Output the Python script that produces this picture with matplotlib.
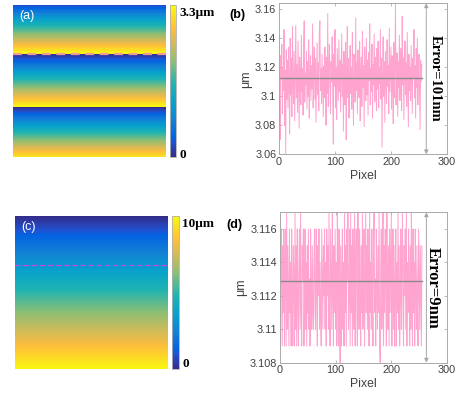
import numpy as np
import matplotlib
matplotlib.use('Agg')
import matplotlib.pyplot as plt
from matplotlib.colors import LinearSegmentedColormap

plt.rcParams['font.family'] = ['Liberation Sans', 'DejaVu Sans']

# surface heights (um) along the image rows, top to bottom
n_px = 256
wrap_um = 3.3          # wrapped range shown in (a)
wrap_top, wrap_bottom = 0.3, 9.7
full_top, full_bottom = 0.0, 9.9
full_vmax = 10.0
profile_row = 82       # dashed line = row used for the profiles

# profiles (nm)
prof_b = [3133, 3095, 3070, 3128, 3112, 3136, 3088, 3120, 3104, 3146, 3080, 3118, 3060, 3132, 3098, 3125,
          3092, 3134, 3108, 3074, 3140, 3101, 3126, 3086, 3148, 3110, 3095, 3131, 3083, 3117, 3149, 3099,
          3122, 3089, 3138, 3106, 3078, 3127, 3113, 3094, 3142, 3103, 3119, 3087, 3135, 3152, 3096, 3116,
          3108, 3131, 3091, 3124, 3100, 3139, 3085, 3113, 3128, 3097, 3121, 3105, 3150, 3092, 3117, 3134,
          3098, 3126, 3082, 3111, 3137, 3101, 3123, 3090, 3144, 3152, 3104, 3119, 3095, 3129, 3108, 3086,
          3121, 3099, 3134, 3113, 3080, 3127, 3102, 3157, 3093, 3118, 3136, 3105, 3088, 3124, 3110, 3141,
          3098, 3067, 3129, 3107, 3146, 3092, 3120, 3084, 3133, 3114, 3097, 3139, 3103, 3125, 3089, 3117,
          3143, 3100, 3122, 3076, 3131, 3109, 3094, 3137, 3070, 3118, 3148, 3099, 3126, 3085, 3113, 3135,
          3102, 3120, 3091, 3144, 3107, 3080, 3129, 3115, 3096, 3154, 3104, 3123, 3088, 3132, 3110, 3099,
          3138, 3083, 3117, 3127, 3093, 3145, 3106, 3121, 3079, 3134, 3112, 3097, 3140, 3101, 3125, 3087,
          3130, 3111, 3150, 3094, 3119, 3103, 3136, 3085, 3122, 3108, 3143, 3096, 3127, 3114, 3090, 3133,
          3105, 3138, 3092, 3120, 3109, 3146, 3098, 3126, 3065, 3116, 3141, 3100, 3124, 3082, 3131, 3112,
          3095, 3139, 3107, 3121, 3088, 3147, 3103, 3118, 3134, 3091, 3128, 3110, 3081, 3137, 3099, 3122,
          3164, 3094, 3115, 3130, 3086, 3124, 3106, 3142, 3097, 3119, 3133, 3090, 3155, 3108, 3127, 3084,
          3116, 3138, 3101, 3123, 3093, 3144, 3111, 3079, 3129, 3104, 3120, 3097, 3135, 3109, 3088, 3126,
          3113, 3146, 3099, 3121, 3085, 3133, 3106, 3140, 3094, 3118, 3129, 3102, 3077, 3125, 3110, 3122]
mean_b = 3.1128

# (d) offsets from 3100 nm
prof_d = [17, 9, 16, 14, 9, 15, 11, 16, 9, 13, 16, 9, 17, 10, 15, 12,
          9, 16, 11, 14, 9, 16, 12, 9, 15, 13, 9, 17, 10, 15, 9, 16,
          12, 9, 14, 16, 10, 17, 11, 9, 15, 13, 16, 9, 12, 16, 10, 14,
          9, 15, 11, 16, 10, 13, 9, 16, 12, 10, 15, 11, 10, 14, 16, 11,
          10, 16, 13, 9, 15, 12, 16, 10, 14, 11, 9, 16, 13, 10, 15, 12,
          16, 10, 14, 9, 16, 12, 15, 10, 17, 11, 9, 16, 13, 10, 17, 12,
          9, 15, 11, 16, 10, 14, 9, 17, 12, 9, 16, 11, 8, 15, 9, 13,
          16, 10, 14, 9, 17, 11, 15, 9, 16, 13, 17, 10, 12, 16, 9, 17,
          11, 15, 9, 16, 12, 10, 17, 9, 14, 16, 11, 9, 17, 13, 10, 16,
          12, 9, 15, 11, 17, 10, 14, 16, 9, 13, 17, 11, 15, 10, 16, 12,
          9, 17, 11, 14, 10, 16, 12, 9, 15, 17, 11, 13, 9, 16, 12, 10,
          15, 11, 17, 9, 8, 14, 16, 10, 12, 17, 9, 15, 11, 16, 13, 9,
          17, 12, 10, 15, 9, 16, 11, 14, 17, 9, 13, 16, 10, 15, 9, 12,
          16, 9, 14, 11, 17, 10, 15, 9, 12, 16, 10, 14, 17, 11, 9, 15,
          12, 16, 10, 17, 9, 14, 11, 16, 13, 9, 15, 10, 17, 12, 9, 16,
          11, 14, 9, 16, 12, 10, 15, 11, 9, 16, 13, 10, 15, 12, 9, 15]
mean_d = 3.1129

b_ticks = [3.06, 3.08, 3.1, 3.12, 3.14, 3.16]
b_ticklabels = ['3.06', '3.08', '3.1', '3.12', '3.14', '3.16']
d_ticks = [3.108, 3.11, 3.112, 3.114, 3.116]
d_ticklabels = ['3.108', '3.11', '3.112', '3.114', '3.116']
x_ticks = [0, 100, 200, 300]

# parula-like colormap
parula = LinearSegmentedColormap.from_list('parula', [
    (0.0, (0.2081, 0.1663, 0.5292)),
    (0.095, (0.1253, 0.3242, 0.8303)),
    (0.127, (0.0117, 0.3875, 0.8820)),
    (0.238, (0.0779, 0.5040, 0.8384)),
    (0.349, (0.0239, 0.6287, 0.8038)),
    (0.48, (0.1200, 0.7050, 0.7000)),
    (0.635, (0.5709, 0.7485, 0.4494)),
    (0.746, (0.8185, 0.7327, 0.3498)),
    (0.841, (0.9938, 0.7455, 0.2403)),
    (0.873, (0.9955, 0.7861, 0.1967)),
    (1.0, (0.9763, 0.9831, 0.0538))])

W, H = 461, 398
fig = plt.figure(figsize=(W / 100, H / 100), dpi=100)


def frac(x0, y0, x1, y1):
    return [x0 / W, 1 - y1 / H, (x1 - x0) / W, (y1 - y0) / H]


def image_panel(rect, cbar_rect, img, vmax, tag, top_label, top_y, zero_y, dash_color, dash_lw):
    ax = fig.add_axes(frac(*rect))
    im = ax.imshow(img, cmap=parula, vmin=0, vmax=vmax, aspect='auto',
                   extent=(0, n_px, n_px, 0), interpolation='nearest')
    ax.axhline(profile_row, color=dash_color, lw=dash_lw, ls=(0, (4, 2.5)))
    ax.set_xticks([])
    ax.set_yticks([])
    for s in ax.spines.values():
        s.set_visible(False)
    ax.text(0.04, 0.965, tag, transform=ax.transAxes, color='white', fontsize=9,
            va='top', ha='left')
    cax = fig.add_axes(frac(*cbar_rect))
    cb = fig.colorbar(im, cax=cax)
    cb.set_ticks([])
    cb.outline.set_edgecolor('#B0B0B0')
    cb.outline.set_linewidth(0.6)
    xl = (cbar_rect[2] + 3) / W
    fig.text(xl, 1 - top_y / H, top_label, family='Liberation Serif', weight='bold',
             fontsize=9.5, va='center', ha='left')
    fig.text(xl, 1 - zero_y / H, '0', family='Liberation Serif', weight='bold',
             fontsize=9.5, va='center', ha='left')


def line_panel(rect, values, mean, ylim, yticks, yticklabels, tag, tag_xy, err_text, err_x, err_size):
    ax = fig.add_axes(frac(*rect))
    x = np.arange(len(values))
    ax.plot(x, values, color='#FF85C0', lw=0.7, alpha=0.75)
    ax.plot([x[0], x[-1]], [mean, mean], color='#8A8A8A', lw=1.0)
    ax.set_xlim(0, 300)
    ax.set_ylim(ylim)
    ax.set_xticks(x_ticks)
    ax.set_yticks(yticks)
    ax.set_yticklabels(yticklabels)
    ax.tick_params(direction='in', length=2, width=0.5, top=True, right=True,
                   labelsize=7.8, color='#A0A0A0', labelcolor='#404040', pad=2)
    for s in ax.spines.values():
        s.set_color('#AAAAAA')
        s.set_linewidth(0.7)
    ax.set_xlabel('Pixel', fontsize=8.8, color='#404040', labelpad=2)
    ax.set_ylabel('μm', fontsize=8.8, color='#404040', labelpad=2)
    ax.annotate('', xy=(263, ylim[1]), xytext=(263, ylim[0]),
                arrowprops=dict(arrowstyle='<|-|>', color='#A8A8A8', lw=0.7,
                                mutation_scale=6, shrinkA=0, shrinkB=0))
    ax.text(err_x, (ylim[0] + ylim[1]) / 2, err_text, rotation=-90, family='Liberation Serif',
            weight='bold', fontsize=err_size, ha='center', va='center')
    fig.text(tag_xy[0] / W, 1 - tag_xy[1] / H, tag, weight='bold',
             fontsize=9, ha='left', va='center')


img_wrapped = np.mod(np.tile(np.linspace(wrap_top, wrap_bottom, n_px)[:, None], (1, n_px)), wrap_um)
img_full = np.tile(np.linspace(full_top, full_bottom, n_px)[:, None], (1, n_px))

image_panel((13, 5, 165.7, 157), (169.7, 5, 176, 157), img_wrapped, wrap_um, '(a)',
            '3.3μm', 13, 155, '#F29A9A', 1.6)
image_panel((15, 215.7, 167.3, 369), (172.3, 215.7, 179.3, 369), img_full, full_vmax, '(c)',
            '10μm', 224, 364, '#D048E0', 0.9)

line_panel((279, 3.3, 447, 154.3), np.array(prof_b) / 1000, mean_b, (3.06, 3.1641),
           b_ticks, b_ticklabels, '(b)', (229, 15), 'Error=101nm', 279, 10.5)
line_panel((280, 212.3, 447, 362.7), 3.1 + np.array(prof_d) / 1000, mean_d, (3.108, 3.117),
           d_ticks, d_ticklabels, '(d)', (226, 225), 'Error=9nm', 274, 12)

fig.savefig('out.png', dpi=100)
